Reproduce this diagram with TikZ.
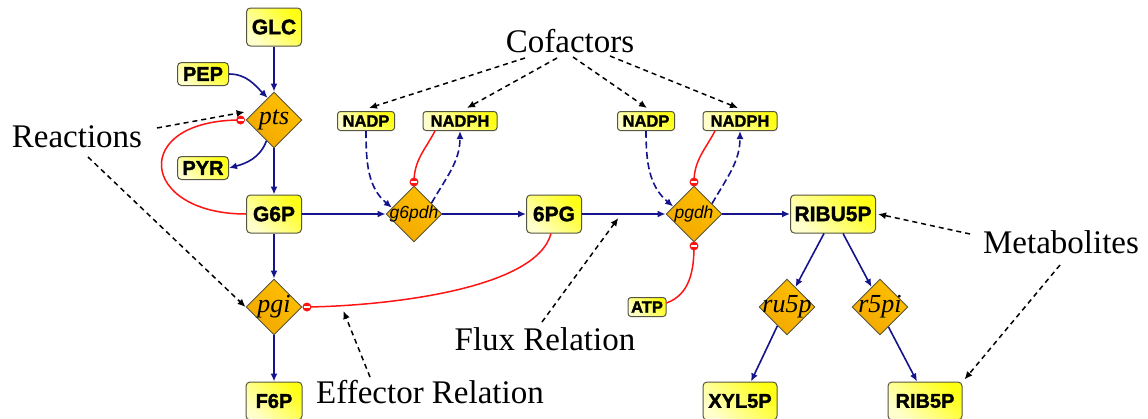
\documentclass[tikz,border=0pt]{standalone}
\usepackage{fontspec}
\setmainfont{Liberation Serif}
\newfontfamily\metfont{Liberation Sans}[BoldFeatures={FakeBold=1.5}]
\usetikzlibrary{shapes.geometric,arrows.meta,calc}

\definecolor{fluxblue}{RGB}{20,20,140}
\definecolor{inhred}{RGB}{255,20,20}
\definecolor{boxline}{RGB}{85,85,65}
\definecolor{metlo}{RGB}{255,255,205}
\definecolor{methi}{RGB}{255,255,20}
\definecolor{rxnhi}{RGB}{255,192,0}
\definecolor{rxnlo}{RGB}{242,168,0}

% inhibition end marker: red disc with a white minus bar
\newcommand\inhibmark[1]{%
  \fill[inhred] (#1) circle (4.5pt);
  \fill[white] ($(#1)+(-3,-0.9)$) rectangle ($(#1)+(3,0.9)$);}

\tikzset{
  met/.style={rounded corners=4pt, draw=boxline, line width=1pt,
    top color=methi, bottom color=metlo, shading angle=-45, inner sep=0pt,
    font=\metfont\bfseries\fontsize{21}{21}\selectfont},
  bigmet/.style={met, minimum width=55pt, minimum height=38pt},
  midmet/.style={met, minimum width=51pt, minimum height=23pt,
    font=\metfont\bfseries\fontsize{20}{20}\selectfont},
  cofmet/.style={met, minimum height=19pt, rounded corners=3pt,
    font=\metfont\bfseries\fontsize{16.5}{16.5}\selectfont},
  rxn/.style={diamond, aspect=1, draw=boxline, line width=0.9pt,
    top color=rxnhi, bottom color=rxnlo, shading angle=-45,
    minimum width=56pt, minimum height=56pt, inner sep=0pt,
    font=\itshape\fontsize{26}{26}\selectfont},
  rxnsans/.style={rxn, font=\metfont\itshape\fontsize{17.5}{17.5}\selectfont},
  flux/.style={draw=fluxblue, line width=1.6pt, -{Latex[length=8pt,width=7pt]}},
  cofflux/.style={flux, dash pattern=on 7pt off 3.5pt},
  inhib/.style={draw=inhred, line width=1.5pt},
  note/.style={draw=black, line width=1.5pt, dash pattern=on 5pt off 4pt,
    -{Latex[length=8pt,width=7pt]}},
  lbl/.style={font=\fontsize{33}{33}\selectfont, inner sep=0pt, anchor=base},
}

\begin{document}
\begin{tikzpicture}[x=1pt,y=-1pt]
\path[use as bounding box, fill=white] (0,0) rectangle (1148,418);

% metabolites
\node[bigmet] (GLC) at (274,27) {GLC};
\node[midmet] (PEP) at (203,74) {PEP};
\node[midmet] (PYR) at (203,168) {PYR};
\node[bigmet] (G6P) at (274,214) {G6P};
\node[bigmet] (sixPG) at (554,214) {6PG};
\node[bigmet, minimum width=85pt] (RIBU5P) at (833,214) {RIBU5P};
\node[bigmet, minimum width=56pt, font=\metfont\bfseries\fontsize{20}{20}\selectfont] (F6P) at (274,401) {F6P};
\node[bigmet, minimum width=74pt, font=\metfont\bfseries\fontsize{20}{20}\selectfont] (XYL5P) at (740,401) {XYL5P};
\node[bigmet, minimum width=74pt, font=\metfont\bfseries\fontsize{20}{20}\selectfont] (RIB5P) at (925,401) {RIB5P};

% cofactors
\node[cofmet, minimum width=57pt] (NADP1) at (366,121) {NADP};
\node[cofmet, minimum width=74pt] (NADPH1) at (460,121) {NADPH};
\node[cofmet, minimum width=57pt] (NADP2) at (646,121) {NADP};
\node[cofmet, minimum width=74pt] (NADPH2) at (740,121) {NADPH};
\node[cofmet, minimum width=38pt] (ATP) at (647,307) {ATP};

% reactions
\node[rxn] (pts) at (274,120) {\makebox[0pt]{pts}};
\node[rxnsans] (g6pdh) at (414,214) {\makebox[0pt]{g6pdh}};
\node[rxnsans] (pgdh) at (694,214) {\makebox[0pt]{pgdh}};
\node[rxn] (pgi) at (274,307) {\makebox[0pt]{pgi}};
\node[rxn] (ru5p) at (787,307) {\makebox[0pt]{ru5p}};
\node[rxn] (r5pi) at (880,307) {\makebox[0pt]{r5pi}};

% annotation labels
\node[lbl] (cof) at (570,52) {Cofactors};
\node[lbl] (react) at (77,147) {Reactions};
\node[lbl] (metab) at (1061,253) {Metabolites};
\node[lbl] (fluxlbl) at (545,350) {Flux Relation};
\node[lbl] (efflbl) at (430,403) {Effector Relation};

% flux relations
\draw[flux] (GLC) -- (pts);
\draw[flux] (PEP.east) to[out=0,in=135] (pts.106);
\draw[flux] (pts.250) to[out=250,in=15] (PYR.east);
\draw[flux] (pts) -- (G6P);
\draw[flux] (G6P) -- (g6pdh);
\draw[flux] (g6pdh) -- (sixPG);
\draw[flux] (sixPG) -- (pgdh);
\draw[flux] (pgdh) -- (RIBU5P);
\draw[flux] (G6P) -- (pgi);
\draw[flux] (pgi) -- (F6P);
\draw[flux] ($(RIBU5P.south)+(-9,0)$) -- (ru5p.67);
\draw[flux] ($(RIBU5P.south)+(10,0)$) -- (r5pi.113);
\draw[flux] (ru5p.243) -- ($(XYL5P.north)+(11,0)$);
\draw[flux] (r5pi.293) -- ($(RIB5P.north)+(-8,0)$);

% cofactor fluxes
\draw[cofflux] (NADP1.south) to[out=-90,in=140] (g6pdh.164);
\draw[cofflux] (g6pdh.32) to[out=60,in=-90] (NADPH1.south);
\draw[cofflux] (NADP2.south) to[out=-90,in=140] (pgdh.160);
\draw[cofflux] (pgdh.30) to[out=60,in=-90] (NADPH2.south);

% effector relations
\coordinate (mk1) at ($(pts.west)+(-5,0)$);
\coordinate (mk2) at ($(g6pdh.north)+(0,-3.5)$);
\coordinate (mk3) at ($(pgdh.north)+(0,-3.5)$);
\coordinate (mk4) at ($(pgdh.south)+(0,3.5)$);
\coordinate (mk5) at ($(pgi.east)+(4.5,0)$);
\draw[inhib] (G6P.west) .. controls ($(G6P.west)+(-107,0)$) and ($(mk1)+(-111,0)$) .. (mk1);
\draw[inhib] ($(NADPH1.south)+(-25,0)$) to[out=-118,in=90] (mk2);
\draw[inhib] ($(NADPH2.south)+(-25,0)$) to[out=-118,in=90] (mk3);
\draw[inhib] ($(ATP.east)+(0,-4)$) to[out=20,in=-90] (mk4);
\draw[inhib] ($(sixPG.south)+(-3,0)$) .. controls ($(sixPG.south)+(-18,57)$) and ($(mk5)+(74,-1)$) .. (mk5);
\inhibmark{mk1}
\inhibmark{mk2}
\inhibmark{mk3}
\inhibmark{mk4}
\inhibmark{mk5}

% annotation pointers
\draw[note] ($(cof.base)+(-45,6)$) -- ($(NADP1.north)+(3,-3)$);
\draw[note] ($(cof.base)+(-13,6)$) -- ($(NADPH1.north)+(7,-3)$);
\draw[note] ($(cof.base)+(3,5)$) -- ($(NADP2.north)+(1,-3)$);
\draw[note] ($(cof.base)+(40,4)$) -- ($(NADPH2.north)+(-2,-3)$);
\draw[note] ($(react.base)+(80,-19)$) -- ($(pts.west)+(-1,-8)$);
\draw[note] ($(react.base)+(11,10)$) -- (pgi.west);
\draw[note] ($(metab.base)+(-91,-19)$) -- ($(RIBU5P.east)+(2,0)$);
\draw[note] ($(metab.base)+(-1,12)$) -- ($(RIB5P.north east)+(2,-2)$);
\draw[note] ($(fluxlbl.base)+(-3,-28)$) -- ($(sixPG.east)!0.435!(pgdh.west)+(0,4)$);
\draw[note] ($(efflbl.base)+(-60,-26)$) -- ($(pgi.east)+(41,4)$);
\end{tikzpicture}
\end{document}
